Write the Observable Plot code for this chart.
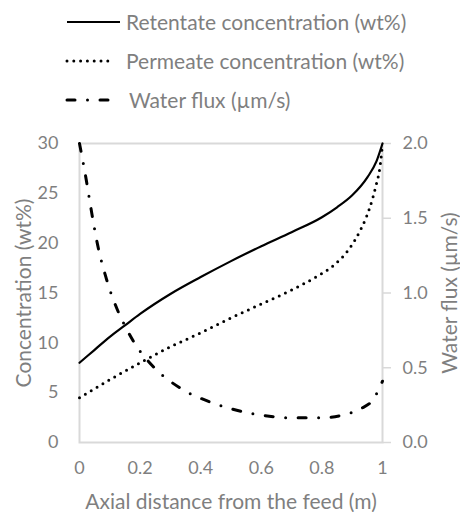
<!DOCTYPE html>
<html><head><meta charset="utf-8">
<script src="https://cdn.jsdelivr.net/npm/d3@7"></script>
<script src="https://cdn.jsdelivr.net/npm/@observablehq/plot@0.6"></script>
<style>
body{margin:0;background:#fff;font-family:Lato,"Open Sans",sans-serif;}
#legend{position:relative;height:120px;width:460px;}
.row{position:absolute;left:0;width:460px;height:30px;}
.row svg{position:absolute;left:0;top:0;}
.row span{position:absolute;top:0;line-height:30px;color:#7f7f7f;font-size:21px;white-space:nowrap;}
</style></head><body>
<div id="legend"></div>
<div id="chart"></div>
<script>
// Axial distance (m) and values
const retX = [0, 0.05, 0.1, 0.15, 0.2, 0.3, 0.4, 0.5, 0.6, 0.7, 0.8, 0.85, 0.9, 0.95, 0.98, 1.0];
const retentate = [8.0, 9.3, 10.6, 11.75, 12.9, 14.9, 16.6, 18.2, 19.7, 21.1, 22.6, 23.6, 24.8, 26.6, 28.2, 30.0];

const perX = [0, 0.1, 0.2, 0.3, 0.4, 0.5, 0.6, 0.7, 0.78, 0.84, 0.894, 0.927, 0.955, 0.977, 0.993, 1.0];
const permeate = [4.5, 6.3, 8.0, 9.6, 11.0, 12.5, 13.9, 15.3, 16.6, 17.8, 19.6, 21.3, 23.3, 25.6, 27.95, 30.0];

const fluxX = [0, 0.022, 0.04, 0.06, 0.088, 0.126, 0.15, 0.177, 0.245, 0.331, 0.432, 0.575, 0.707, 0.795, 0.872, 0.927, 0.97, 1.0];
const flux = [2.0, 1.76, 1.54, 1.32, 1.10, 0.883, 0.78, 0.68, 0.504, 0.366, 0.27, 0.192, 0.165, 0.165, 0.185, 0.225, 0.29, 0.41];

const xTicks = [0, 0.2, 0.4, 0.6, 0.8, 1];
const yTicks = [0, 5, 10, 15, 20, 25, 30];
const fluxTicks = [0, 0.5, 1.0, 1.5, 2.0];

const seriesNames = ["Retentate concentration (wt%)", "Permeate concentration (wt%)", "Water flux (\u00b5m/s)"];

const fluxScale = 15; // 2.0 µm/s on the right axis aligns with 30 wt% on the left

const retData = retX.map((x, i) => ({x, v: retentate[i]}));
const perData = perX.map((x, i) => ({x, v: permeate[i]}));
const fluxData = fluxX.map((x, i) => ({x, v: flux[i]}));

const styles = [
  {stroke: "black", strokeWidth: 2.2, strokeDasharray: null, x2: 120, tx: 126},
  {stroke: "black", strokeWidth: 3, strokeDasharray: "0,6.8", x2: 112, tx: 126},
  {stroke: "black", strokeWidth: 3, strokeDasharray: "8,12.5,0,12.5", x2: 110, tx: 129}
];
const rowTops = [7, 46, 85];

// legend
const legend = document.getElementById("legend");
seriesNames.forEach((name, i) => {
  const s = styles[i];
  const row = document.createElement("div");
  row.className = "row";
  row.style.top = rowTops[i] + "px";
  row.innerHTML = `<svg width="140" height="30"><line x1="67" x2="${s.x2}" y1="15" y2="15" stroke="${s.stroke}" stroke-width="${s.strokeWidth}" stroke-linecap="${s.strokeDasharray ? "round" : "butt"}" ${s.strokeDasharray ? `stroke-dasharray="${s.strokeDasharray}"` : ""}/></svg><span style="left:${s.tx}px">${name}</span>`;
  legend.appendChild(row);
});

const grey = "#7f7f7f";
const chart = Plot.plot({
  width: 460,
  height: 392,
  marginTop: 23,
  marginBottom: 70,
  marginLeft: 79,
  marginRight: 78,
  style: {fontFamily: "Lato, 'Open Sans', sans-serif", fontSize: "18px", color: grey, background: "white", overflow: "visible"},
  x: {domain: [0, 1]},
  y: {domain: [0, 30]},
  marks: [
    Plot.frame({stroke: "#d9d9d9", strokeWidth: 2}),
    Plot.axisX({ticks: xTicks, tickSize: 0, tickPadding: 19, tickFormat: d => String(d), label: null}),
    Plot.axisY({ticks: yTicks, tickSize: 0, tickPadding: 21, tickFormat: d => String(d), label: null}),
    Plot.axisY(fluxTicks.map(f => f * fluxScale), {anchor: "right", tickSize: 8, tickPadding: 12, stroke: "#d9d9d9", fill: grey, strokeWidth: 1.5, tickFormat: d => (d / fluxScale).toFixed(1), label: null}),
    Plot.text([0], {text: () => "Axial distance from the feed (m)", frameAnchor: "bottom", lineAnchor: "middle", textAnchor: "middle", dy: 60, fill: grey, fontSize: 21}),
    Plot.text([0], {text: () => "Concentration (wt%)", frameAnchor: "left", textAnchor: "middle", lineAnchor: "middle", dx: -55, rotate: -90, fill: grey, fontSize: 21}),
    Plot.text([0], {text: () => "Water flux (\u00b5m/s)", frameAnchor: "right", textAnchor: "middle", lineAnchor: "middle", dx: 68, rotate: -90, fill: grey, fontSize: 21}),
    Plot.line(retData, {x: "x", y: "v", curve: "monotone-x", stroke: "black", strokeWidth: styles[0].strokeWidth}),
    Plot.line(perData, {x: "x", y: "v", curve: "monotone-x", stroke: "black", strokeWidth: styles[1].strokeWidth, strokeDasharray: styles[1].strokeDasharray, strokeLinecap: "round"}),
    Plot.line(fluxData, {x: "x", y: d => d.v * fluxScale, curve: "monotone-x", stroke: "black", strokeWidth: styles[2].strokeWidth, strokeDasharray: styles[2].strokeDasharray, strokeLinecap: "round"})
  ]
});
document.getElementById("chart").appendChild(chart);
</script>
</body></html>
